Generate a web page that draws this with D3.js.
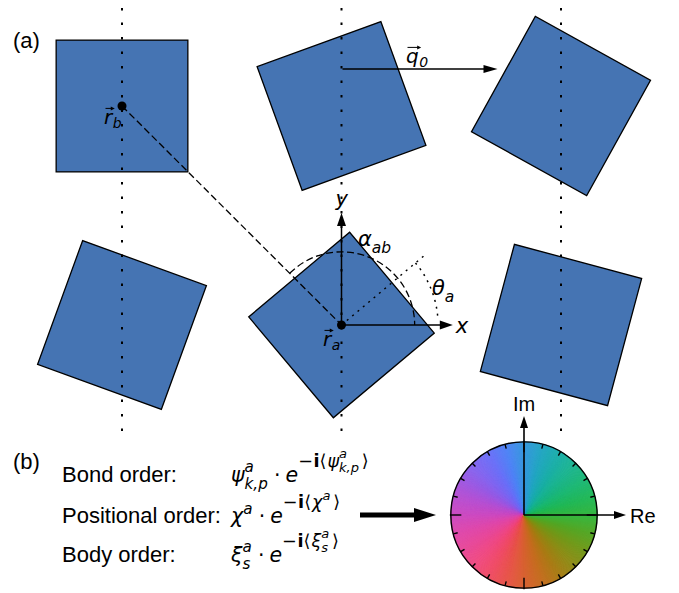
<!DOCTYPE html>
<html>
<head>
<meta charset="utf-8">
<script src="https://cdn.jsdelivr.net/npm/d3@7"></script>
<style>
  html, body { margin: 0; padding: 0; background: #ffffff; }
  svg { display: block; }
  text { white-space: pre; }
</style>
</head>
<body>
<script>
// ---- particles on a square lattice (column, row, orientation in degrees, counter-clockwise)
const particleCol   = [0, 1, 2, 0, 1, 2];
const particleRow   = [0, 0, 0, 1, 1, 1];
const particleTheta = [0, 20, -29, -20, 40, -15];
const particleSide  = 0.6;          // edge length in lattice units
const latticeCols   = [0, 1, 2];
const particleA = 4;                // index of particle a
const particleB = 0;                // index of particle b

// ---- order parameters
const orderNames = ["Bond order:", "Positional order:", "Body order:"];
const orderFormulas = [
  [{t: "ψ", it: 1}, {sup: [{t: "a", it: 1}], sub: [{t: "k,p", it: 1}]}, {t: "·", mx: 5},
   {t: "e", it: 1}, {up: 0.74, k: 0.86, sup: [{t: "−"}, {t: "i", b: 1}, {t: "⟨"}, {t: "ψ", it: 1},
                           {sup: [{t: "a", it: 1}], sub: [{t: "k,p", it: 1}]}, {t: "⟩"}]}],
  [{t: "χ", it: 1}, {sup: [{t: "a", it: 1}]}, {t: "·", mx: 5},
   {t: "e", it: 1}, {up: 0.74, k: 0.86, sup: [{t: "−"}, {t: "i", b: 1}, {t: "⟨"}, {t: "χ", it: 1},
                           {sup: [{t: "a", it: 1}]}, {t: "⟩"}]}],
  [{t: "ξ", it: 1}, {sup: [{t: "a", it: 1}], sub: [{t: "s", it: 1}]}, {t: "·", mx: 5},
   {t: "e", it: 1}, {up: 0.74, k: 0.86, sup: [{t: "−"}, {t: "i", b: 1}, {t: "⟨"}, {t: "ξ", it: 1},
                           {sup: [{t: "a", it: 1}], sub: [{t: "s", it: 1}]}, {t: "⟩"}]}]
];

// ---- complex phase colour wheel (phase in degrees -> colour)
const wheelAngles = [0, 15, 30, 45, 60, 75, 90, 105, 120, 135, 150, 165, 180,
                     195, 210, 225, 240, 255, 270, 285, 300, 315, 330, 345, 360];
const wheelColors = ["#34b63e", "#22b858", "#1cb874", "#1ab48e", "#1aaea8", "#22a6c2", "#3598de",
                     "#4f84f6", "#6a70f8", "#8064f0", "#9a58e2", "#b850d2", "#cc4ac2",
                     "#de48ac", "#e84898", "#f04880", "#f04c66", "#e8544a", "#d86030",
                     "#c46c1e", "#a87a12", "#8c8a12", "#709818", "#52a624", "#34b63e"];
const wheelTicks = [0, 15, 30, 45, 60, 75, 90, 105, 120, 135, 150, 165, 180,
                    195, 210, 225, 240, 255, 270, 285, 300, 315, 330, 345];
const axisNames = ["Re", "Im"];

const W = 679, H = 593;
const svg = d3.select("body").append("svg").attr("width", W).attr("height", H);

const SANS = "'Liberation Sans', Arial, Helvetica, sans-serif";
const MATH = "'DejaVu Sans', sans-serif";
const BLUE = "#4574b3";

// lattice -> pixel scales
const lx = d3.scaleLinear().domain([0, 2]).range([122, 561]);
const ly = d3.scaleLinear().domain([0, 1]).range([106, 325]);
const unit = lx(1) - lx(0);

// ---------- helpers
function arrow(g, x1, y1, x2, y2, hl, hw, sw) {
  const a = Math.atan2(y2 - y1, x2 - x1);
  const bx = x2 - hl * Math.cos(a), by = y2 - hl * Math.sin(a);
  g.append("line").attr("x1", x1).attr("y1", y1).attr("x2", bx + Math.cos(a)).attr("y2", by + Math.sin(a))
    .attr("stroke", "#000").attr("stroke-width", sw);
  const nx = -Math.sin(a) * hw / 2, ny = Math.cos(a) * hw / 2;
  g.append("path")
    .attr("d", `M${x2},${y2}L${bx + nx},${by + ny}L${bx - nx},${by - ny}Z`)
    .attr("fill", "#000");
}

// small extra spacing (in em) around delimiters
const spaceBefore = {"⟩": 0.1};
const spaceAfter  = {"⟨": 0.06, "−": 0.03};

// lays out a small formula: plain runs, and stacked super/subscripts
function mathRun(g, tokens, x, y, size) {
  for (const tk of tokens) {
    if (tk.sup || tk.sub) {
      const s2 = size * (tk.k || 0.74);
      let w1 = 0, w2 = 0;
      const both = tk.sup && tk.sub;
      const up = tk.up || (both ? 0.5 : 0.45);
      if (tk.sup) w1 = mathRun(g, tk.sup, x, y - size * up, s2) - x;
      if (tk.sub) w2 = mathRun(g, tk.sub, x, y + size * 0.32, s2) - x;
      x += Math.max(w1, w2) + size * 0.06;
    } else {
      x += (tk.mx || 0) + (spaceBefore[tk.t] || 0) * size;
      const t = g.append("text")
        .attr("x", x).attr("y", y)
        .attr("font-family", MATH)
        .attr("font-size", size)
        .attr("font-style", tk.it ? "italic" : "normal")
        .attr("font-weight", tk.b ? "bold" : "normal")
        .text(tk.t);
      x += t.node().getComputedTextLength();
      x += (tk.mx || 0) + (spaceAfter[tk.t] || 0) * size;
    }
  }
  return x;
}

function vecLabel(g, x, y, letter, sub, size) {
  const t = g.append("text").attr("x", x).attr("y", y)
    .attr("font-family", MATH).attr("font-size", size).attr("font-style", "italic").text(letter);
  const w = t.node().getComputedTextLength();
  // vector arrow above the symbol
  arrow(g, x + 1.5, y - size * 0.78, x + w + 2.5, y - size * 0.78, 4, 4, 1);
  g.append("text").attr("x", x + w + 0.5).attr("y", y + size * 0.2)
    .attr("font-family", MATH).attr("font-size", size * 0.7).attr("font-style", "italic").text(sub);
}

// ================= panel (a)
const ga = svg.append("g");

// particles
particleCol.forEach((c, i) => {
  const s = particleSide * unit;
  ga.append("rect")
    .attr("transform", `translate(${lx(c)},${ly(particleRow[i])}) rotate(${-particleTheta[i]})`)
    .attr("x", -s / 2).attr("y", -s / 2).attr("width", s).attr("height", s)
    .attr("fill", BLUE).attr("stroke", "#000").attr("stroke-width", 1.3);
});

// lattice columns
latticeCols.forEach(c => {
  ga.append("line").attr("x1", lx(c)).attr("x2", lx(c)).attr("y1", 8).attr("y2", 437)
    .attr("stroke", "#000").attr("stroke-width", 2).attr("stroke-dasharray", "2.5,12");
});

const ax = lx(particleCol[particleA]), ay = ly(particleRow[particleA]);
const bx = lx(particleCol[particleB]), by = ly(particleRow[particleB]);

// bond between b and a
ga.append("line").attr("x1", bx).attr("y1", by).attr("x2", ax).attr("y2", ay)
  .attr("stroke", "#000").attr("stroke-width", 1.3).attr("stroke-dasharray", "7,3.5");

// bond angle alpha_ab
const alpha = Math.atan2(-(by - ay), bx - ax);      // counter-clockwise from x
const rArc = unit / 3;
const pAlpha = d3.path();
pAlpha.moveTo(ax + rArc * Math.cos(-alpha), ay + rArc * Math.sin(-alpha));
pAlpha.arc(ax, ay, rArc, -alpha, 0, false);
ga.append("path").attr("d", pAlpha.toString()).attr("fill", "none")
  .attr("stroke", "#000").attr("stroke-width", 1.3).attr("stroke-dasharray", "7,3.5");

// orientation theta_a
const th = particleTheta[particleA] * Math.PI / 180;
const rTheta = unit * 0.44, rDir = unit * 0.49;
ga.append("line").attr("x1", ax).attr("y1", ay)
  .attr("x2", ax + rDir * Math.cos(th)).attr("y2", ay - rDir * Math.sin(th))
  .attr("stroke", "#000").attr("stroke-width", 1.5).attr("stroke-dasharray", "2,5");
const pTheta = d3.path();
pTheta.moveTo(ax + rTheta * Math.cos(-th), ay + rTheta * Math.sin(-th));
pTheta.arc(ax, ay, rTheta, -th, -0.08, false);
ga.append("path").attr("d", pTheta.toString()).attr("fill", "none")
  .attr("stroke", "#000").attr("stroke-width", 1.5).attr("stroke-dasharray", "2,5");

// body frame axes
arrow(ga, ax, ay, ax + unit * 0.507, ay, 13, 9, 1.5);
arrow(ga, ax, ay, ax, ay - unit * 0.51, 13, 9, 1.5);

// centres
ga.append("circle").attr("cx", ax).attr("cy", ay).attr("r", 4.5).attr("fill", "#000");
ga.append("circle").attr("cx", bx).attr("cy", by).attr("r", 4.5).attr("fill", "#000");

// wave vector q0
arrow(ga, lx(1) + 1, 69, lx(1) + 156, 69, 14, 8, 1.5);

// symbols
vecLabel(ga, 104, 124, "r", "b", 20);
vecLabel(ga, 323, 346, "r", "a", 20);
vecLabel(ga, 406, 63, "q", "0", 20);
mathRun(ga, [{t: "x", it: 1}], ax + unit * 0.52, ay + 8, 21);
mathRun(ga, [{t: "y", it: 1}], ax - 6, ay - unit * 0.54, 21);
mathRun(ga, [{t: "α", it: 1}, {sub: [{t: "ab", it: 1}]}], 358, 246, 21);
mathRun(ga, [{t: "θ", it: 1}, {sub: [{t: "a", it: 1}]}], 432, 295, 21);

ga.append("text").attr("x", 13).attr("y", 48).attr("font-family", SANS).attr("font-size", 22).text("(a)");

// ================= panel (b)
const gb = svg.append("g");
gb.append("text").attr("x", 13).attr("y", 469).attr("font-family", SANS).attr("font-size", 22).text("(b)");

const rowY = [482, 523, 562];
orderNames.forEach((name, i) => {
  gb.append("text").attr("x", 62).attr("y", rowY[i]).attr("font-family", SANS).attr("font-size", 22).text(name);
  mathRun(gb, orderFormulas[i], 231, rowY[i], 20.5);
});

// mapping arrow
arrow(gb, 360, 515, 436, 515, 22, 14, 5);

// colour wheel
const wc = {x: 524, y: 515}, wr = unit / 3;
const gw = gb.append("g").attr("transform", `translate(${wc.x},${wc.y})`);
const phaseColor = d3.scaleLinear().domain(wheelAngles).range(wheelColors).interpolate(d3.interpolateRgb);
const wedge = d3.arc().innerRadius(0).outerRadius(wr);
const nSeg = 720;
for (let k = 0; k < nSeg; k++) {
  const p0 = k * 360 / nSeg, p1 = (k + 1) * 360 / nSeg;          // phase, counter-clockwise from Re
  const c = phaseColor((p0 + p1) / 2);
  gw.append("path")
    .attr("d", wedge({startAngle: (90 - p1) * Math.PI / 180, endAngle: (90 - p0) * Math.PI / 180}))
    .attr("fill", c).attr("stroke", c).attr("stroke-width", 0.6);
}
gw.append("circle").attr("r", wr).attr("fill", "none").attr("stroke", "#000").attr("stroke-width", 1.4);
wheelTicks.forEach(a => {
  const major = a % 90 === 0;
  const rad = a * Math.PI / 180, len = major ? 10.5 : 4.5;
  gw.append("line")
    .attr("x1", (wr + (major ? 1 : 0)) * Math.cos(rad)).attr("y1", -(wr + (major ? 1 : 0)) * Math.sin(rad))
    .attr("x2", (wr - len) * Math.cos(rad)).attr("y2", -(wr - len) * Math.sin(rad))
    .attr("stroke", "#000").attr("stroke-width", 1.4);
});
arrow(gw, 0, 0, 102, 0, 12, 8, 1.6);
arrow(gw, 0, 0, 0, -99, 12, 8, 1.6);
gw.append("text").attr("x", 106).attr("y", 8).attr("font-family", SANS).attr("font-size", 20).text(axisNames[0]);
gw.append("text").attr("x", 0).attr("y", -104).attr("text-anchor", "middle")
  .attr("font-family", SANS).attr("font-size", 20).text(axisNames[1]);
</script>
</body>
</html>
